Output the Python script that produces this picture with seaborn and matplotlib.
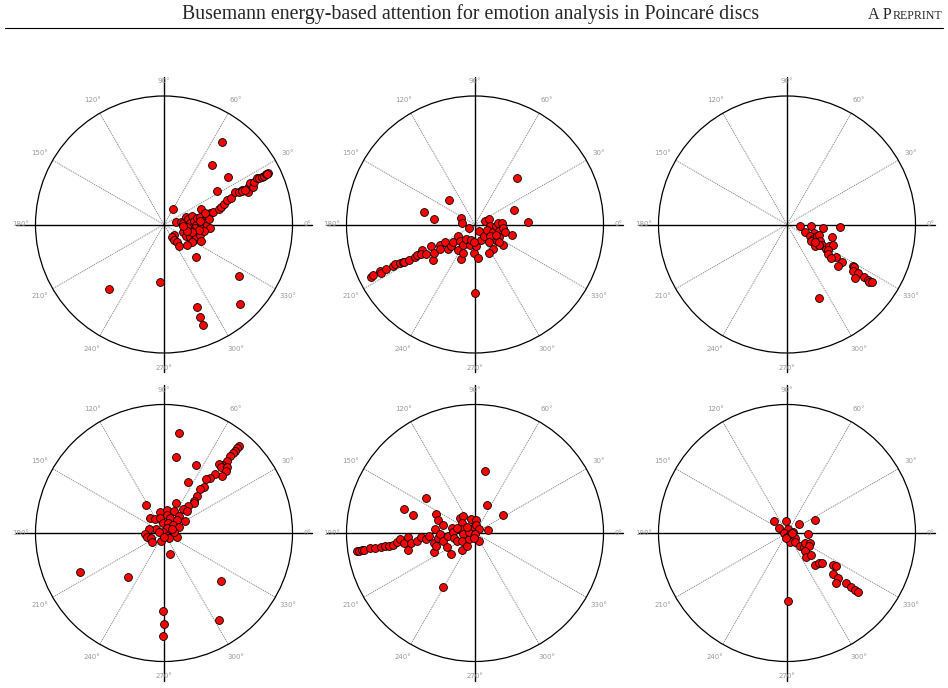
import matplotlib
matplotlib.use('Agg')
import matplotlib.pyplot as plt
from matplotlib.patches import Circle
import numpy as np
import pandas as pd
import seaborn as sns

# point positions inside the unit disc (x, y)
disc1 = [(0.45, 0.64), (0.37, 0.46), (0.50, 0.37), (0.41, 0.26), (0.07, 0.12), (0.25, -0.25), (0.58, -0.40),
         (0.59, -0.62), (0.26, -0.64), (0.28, -0.72), (0.30, -0.78), (-0.03, -0.45), (-0.43, -0.50),
         (0.36, 0.09), (0.38, 0.10), (0.43, 0.12), (0.44, 0.14), (0.47, 0.16), (0.49, 0.19), (0.52, 0.21),
         (0.55, 0.25), (0.58, 0.25), (0.61, 0.27), (0.65, 0.25), (0.66, 0.30), (0.67, 0.32), (0.69, 0.29),
         (0.70, 0.33), (0.72, 0.36), (0.74, 0.36), (0.76, 0.37), (0.78, 0.38), (0.79, 0.39), (0.81, 0.40),
         (0.80, 0.39), (0.61, 0.26), (0.63, 0.27),
         (0.09, 0.02), (0.13, 0.02), (0.15, 0.01), (0.17, 0.06), (0.19, 0.04), (0.20, 0.01), (0.22, 0.07),
         (0.23, 0.03), (0.25, 0.00), (0.26, 0.05), (0.28, 0.06), (0.29, 0.12), (0.30, 0.03), (0.31, 0.01),
         (0.33, -0.01), (0.35, 0.04), (0.36, -0.03), (0.28, -0.03), (0.24, -0.03), (0.20, -0.04), (0.18, -0.02),
         (0.15, -0.06), (0.17, -0.09), (0.20, -0.10), (0.23, -0.12), (0.25, -0.09), (0.28, -0.08), (0.31, -0.05),
         (0.29, -0.13), (0.22, -0.14), (0.18, -0.16), (0.08, -0.08), (0.06, -0.10), (0.08, -0.12), (0.10, -0.14),
         (0.12, -0.17), (0.27, -0.04), (0.22, -0.06), (0.18, -0.05), (0.15, -0.01), (0.28, 0.03), (0.32, 0.09)]

disc2 = [(0.33, 0.36), (0.30, 0.11), (0.41, 0.02), (-0.20, 0.19), (-0.40, 0.10), (-0.32, 0.04), (-0.11, 0.05),
         (-0.10, 0.01), (-0.05, -0.03), (0.00, -0.53), (0.29, -0.08),
         (-0.81, -0.41), (-0.79, -0.39), (-0.74, -0.36), (-0.73, -0.38), (-0.69, -0.35), (-0.64, -0.32),
         (-0.62, -0.31), (-0.58, -0.30), (-0.56, -0.29), (-0.55, -0.29), (-0.51, -0.28), (-0.47, -0.25),
         (-0.45, -0.24), (-0.41, -0.20), (-0.42, -0.23), (-0.38, -0.23), (-0.33, -0.28), (-0.34, -0.17),
         (-0.32, -0.22), (-0.27, -0.16), (-0.27, -0.19), (-0.23, -0.14), (-0.21, -0.19), (-0.19, -0.17),
         (-0.17, -0.14), (-0.13, -0.09), (-0.12, -0.13), (-0.13, -0.20), (-0.11, -0.27), (-0.09, -0.22),
         (-0.09, -0.16), (-0.07, -0.11), (-0.04, -0.16), (-0.03, -0.12), (-0.01, -0.22), (0.02, -0.26),
         (0.03, -0.05), (0.01, -0.17), (0.05, -0.12), (0.07, -0.09), (0.08, 0.03), (0.11, 0.04), (0.12, -0.01),
         (0.09, -0.04), (0.14, -0.06), (0.16, -0.01), (0.18, 0.01), (0.21, 0.01), (0.19, -0.05), (0.22, -0.03),
         (0.23, -0.06), (0.19, -0.10), (0.22, -0.16), (0.14, -0.19), (0.11, -0.22), (0.17, -0.13), (0.19, -0.14),
         (0.12, -0.09), (0.16, -0.08), (0.11, -0.14), (-0.01, -0.14)]

disc3 = [(0.10, -0.01), (0.19, -0.01), (0.28, -0.03), (0.41, -0.02), (0.14, -0.06), (0.21, -0.07), (0.18, -0.09),
         (0.20, -0.11), (0.23, -0.09), (0.25, -0.08), (0.19, -0.13), (0.26, -0.13), (0.35, -0.10), (0.22, -0.17),
         (0.27, -0.16), (0.30, -0.19), (0.33, -0.17), (0.36, -0.16), (0.32, -0.20), (0.32, -0.23), (0.38, -0.25),
         (0.34, -0.26), (0.43, -0.29), (0.40, -0.32), (0.51, -0.32), (0.52, -0.33), (0.51, -0.36), (0.55, -0.38),
         (0.53, -0.42), (0.60, -0.41), (0.63, -0.43), (0.64, -0.45), (0.66, -0.45), (0.25, -0.57), (0.25, -0.16),
         (0.22, -0.14)]

disc4 = [(0.12, 0.78), (0.09, 0.59), (0.25, 0.53), (0.19, 0.40), (-0.14, 0.22), (0.09, 0.23), (0.05, -0.16),
         (-0.65, -0.30), (-0.28, -0.34), (0.44, -0.37), (0.43, -0.68), (-0.01, -0.61), (0.00, -0.71), (-0.01, -0.80),
         (0.58, 0.68), (0.57, 0.66), (0.55, 0.64), (0.54, 0.62), (0.51, 0.60), (0.49, 0.56), (0.45, 0.53),
         (0.43, 0.54), (0.44, 0.51), (0.49, 0.51), (0.48, 0.48), (0.45, 0.44), (0.40, 0.46), (0.36, 0.43),
         (0.33, 0.42), (0.31, 0.36), (0.28, 0.34), (0.26, 0.29), (0.23, 0.25), (0.23, 0.23), (0.19, 0.21),
         (0.15, 0.19), (0.18, 0.17),
         (-0.03, 0.16), (0.02, 0.18), (0.08, 0.17), (-0.11, 0.12), (-0.07, 0.11), (-0.03, 0.12), (0.02, 0.14),
         (0.05, 0.12), (0.12, 0.13), (0.10, 0.10), (0.16, 0.09), (-0.01, 0.08), (0.03, 0.08), (0.07, 0.06),
         (0.12, 0.05), (0.02, 0.04), (-0.06, 0.03), (-0.12, 0.03), (-0.15, -0.01), (-0.13, -0.03), (-0.10, -0.04),
         (-0.09, -0.07), (-0.02, -0.06), (-0.01, 0.01), (0.02, -0.02), (0.04, -0.04), (0.10, -0.03), (0.08, 0.01),
         (-0.04, 0.01), (0.00, -0.03), (0.06, 0.03)]

disc5 = [(0.08, 0.48), (0.09, 0.22), (0.22, 0.14), (0.10, 0.02), (-0.38, 0.27), (-0.55, 0.19), (-0.48, 0.14),
         (-0.30, 0.15), (-0.29, 0.10), (-0.25, 0.06), (-0.25, -0.42),
         (-0.92, -0.14), (-0.90, -0.14), (-0.88, -0.13), (-0.86, -0.13), (-0.82, -0.12), (-0.78, -0.12),
         (-0.73, -0.11), (-0.70, -0.10), (-0.67, -0.10), (-0.64, -0.09), (-0.61, -0.07), (-0.58, -0.05),
         (-0.55, -0.08), (-0.52, -0.03), (-0.52, -0.13), (-0.50, -0.08), (-0.45, -0.06), (-0.42, -0.03),
         (-0.38, -0.05), (-0.36, -0.02), (-0.32, -0.08), (-0.32, -0.15), (-0.30, -0.10), (-0.31, 0.03),
         (-0.29, -0.04), (-0.27, -0.01), (-0.25, -0.06), (-0.22, -0.11), (-0.19, -0.16), (-0.21, -0.02),
         (-0.18, 0.04), (-0.17, 0.01), (-0.16, -0.04), (-0.14, -0.06), (-0.12, 0.12), (-0.09, 0.13), (-0.10, 0.08),
         (-0.11, 0.03), (-0.09, -0.01), (-0.10, -0.06), (-0.10, -0.13), (-0.06, -0.10), (-0.05, -0.05),
         (-0.05, 0.01), (-0.03, 0.11), (0.01, 0.10), (-0.01, 0.05), (0.01, 0.06), (0.03, 0.03), (0.00, -0.01),
         (0.03, -0.06), (-0.01, -0.04), (-0.06, 0.05), (-0.14, 0.04)]

disc6 = [(-0.10, 0.09), (-0.01, 0.09), (0.09, 0.07), (0.22, 0.10), (-0.06, 0.04), (0.01, 0.03), (-0.02, 0.00),
         (0.02, -0.01), (0.05, 0.01), (0.00, -0.03), (0.06, -0.04), (0.02, -0.07), (0.06, -0.07), (0.16, -0.01),
         (0.10, -0.10), (0.13, -0.11), (0.14, -0.08), (0.18, -0.08), (0.17, -0.10), (0.14, -0.14), (0.15, -0.19),
         (0.19, -0.17), (0.22, -0.25), (0.25, -0.23), (0.27, -0.23), (0.36, -0.25), (0.38, -0.26), (0.36, -0.32),
         (0.40, -0.35), (0.38, -0.39), (0.46, -0.39), (0.50, -0.42), (0.53, -0.44), (0.55, -0.46), (0.01, -0.53),
         (-0.01, -0.04), (0.04, 0.00)]

discs = [disc1, disc2, disc3, disc4, disc5, disc6]
angle_ticks = [0, 30, 60, 90, 120, 150, 180, 210, 240, 270, 300, 330]
header_title = 'Busemann energy-based attention for emotion analysis in Poincaré discs'

sns.set_style('white')

W, H = 948, 688
fig = plt.figure(figsize=(W / 100, H / 100), dpi=100)

# header of the paper page
fig.text(471 / W, 1 - 14 / H, header_title, family='Liberation Serif', fontsize=14.3,
         ha='center', va='center')
r = fig.canvas.get_renderer()
t2 = fig.text(942 / W, 1 - 19 / H, 'REPRINT', family='Liberation Serif', fontsize=8.6,
              ha='right', va='baseline')
bb = t2.get_window_extent(r)
fig.text(bb.x0 / W, 1 - 19 / H, 'A P', family='Liberation Serif', fontsize=11.6,
         ha='right', va='baseline')
fig.add_artist(plt.Line2D([5 / W, 943 / W], [1 - 27.5 / H, 1 - 27.5 / H], color='black', lw=0.8))

# panel geometry in pixels
R = 128.5
half = 1.2 * R
col_cx = [164, 475, 787]
row_cy = [224.5, 533]

for i, pts in enumerate(discs):
    cx = col_cx[i % 3]
    cy = row_cy[i // 3]
    ax = fig.add_axes([(cx - half) / W, (H - cy - half) / H, 2 * half / W, 2 * half / H])
    ax.set_xlim(-1.2, 1.2)
    ax.set_ylim(-1.2, 1.2)
    ax.axis('off')

    # dotted radial grid
    for a in angle_ticks:
        if a % 90 == 0:
            continue
        t = np.deg2rad(a)
        ax.plot([0, np.cos(t)], [0, np.sin(t)], color='#8a8a8a', lw=0.7, ls=(0, (1.2, 0.9)), zorder=1)
    # axis cross
    ax.plot([-1.15, 1.15], [0, 0], color='black', lw=1.0, zorder=2, clip_on=False)
    ax.plot([0, 0], [-1.15, 1.15], color='black', lw=1.0, zorder=2, clip_on=False)
    ax.add_patch(Circle((0, 0), 1.0, fill=False, edgecolor='black', lw=0.9, zorder=2))

    for a in angle_ticks:
        t = np.deg2rad(a)
        ax.text(1.115 * np.cos(t), 1.115 * np.sin(t), f'{a}°', fontsize=5, color='#9a9a9a',
                ha='center', va='center', clip_on=False)

    df = pd.DataFrame(pts, columns=['x', 'y'])
    sns.scatterplot(data=df, x='x', y='y', ax=ax, color='red', edgecolor='black',
                    linewidth=0.6, s=32, zorder=3, legend=False, clip_on=False)

fig.savefig('out.png', dpi=100)
